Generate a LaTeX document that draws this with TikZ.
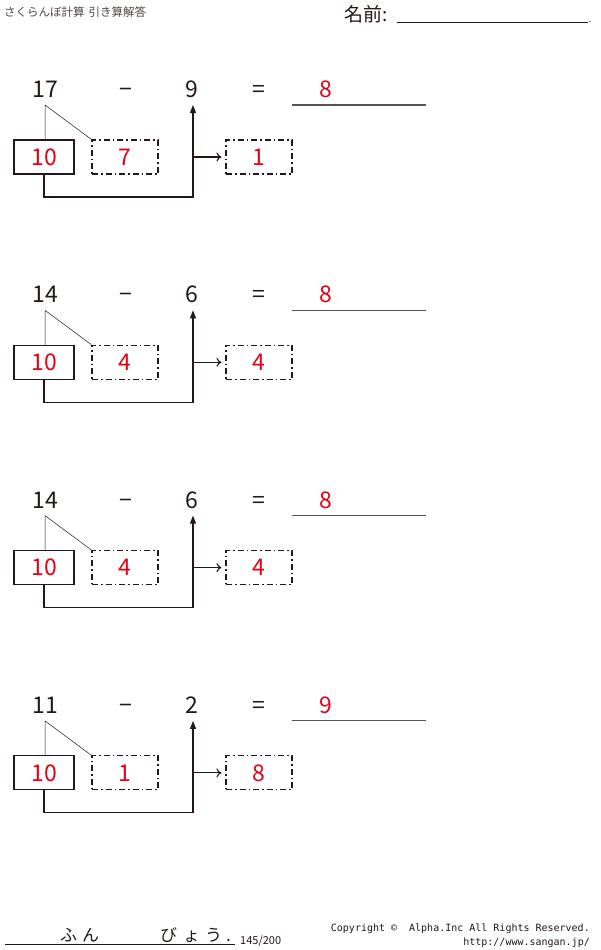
\documentclass[tikz,border=0pt]{standalone}
\usepackage{fontspec}
\setmainfont{Noto Sans CJK JP}
\newfontfamily\monof{DejaVu Sans Mono}
\usetikzlibrary{arrows.meta}
\definecolor{ansred}{RGB}{230,0,18}
\definecolor{ink}{RGB}{35,24,21}
\begin{document}
\begin{tikzpicture}[x=1pt,y=-1pt,
  num/.style={font=\fontsize{23}{23}\selectfont, inner sep=0pt, text=ink, anchor=base},
  ans/.style={num, text=ansred},
  solidbox/.style={draw=ink, line width=1.1pt, minimum width=60pt, minimum height=34pt, inner sep=0pt, text=ansred, font=\fontsize{23}{23}\selectfont},
  dashbox/.style={solidbox, dash pattern=on 6pt off 3pt on 1.5pt off 3pt, minimum width=66pt},
  conn/.style={draw=ink, line width=1.1pt},
  thinline/.style={draw=ink, line width=0.5pt},
  ansline/.style={draw=ink!75, line width=1.1pt}]
\useasboundingbox[fill=white] (0,0) rectangle (600,950);
% header
\node[anchor=west, font=\fontsize{11.5}{11.5}\selectfont, text=ink!80, inner sep=0pt] (title) at (4,12) {さくらんぼ計算\hspace{4pt}引き算解答};
\node[anchor=west, font=\fontsize{19}{19}\selectfont, text=ink, inner sep=0pt] (name) at (344,14) {名前:};
\coordinate (nl1) at (397,22);
\coordinate (nl2) at (588,22);
\draw[thinline, line width=0.7pt] (nl1) -- (nl2);
\fill[ink] (590,21.5) circle (0.6pt);
% problems
\foreach \a/\b/\c/\d/\e [count=\i] in {17/9/8/7/1, 14/6/8/4/4, 14/6/8/4/4, 11/2/9/1/8} {
  \pgfmathsetmacro\oy{205.3*(\i-1)}
  \begin{scope}[shift={(0,\oy)}]
    \node[num] (m\i) at (45,97.5) {\a};
    \node[num] (op\i) at (126,97.5) {−};
    \node[num] (s\i) at (192,97.5) {\b};
    \node[num] (eq\i) at (259,97.5) {=};
    \node[ans] (a\i) at (326,97.5) {\c};
    \coordinate (ul\i) at (292,105);
    \coordinate (ur\i) at (426,105);
    \draw[ansline] (ul\i) -- (ur\i);
    \node[solidbox] (t\i) at (44,157) {10};
    \node[dashbox] (o\i) at (125,157) {\d};
    \node[dashbox] (r\i) at (259,157) {\e};
    \coordinate (c\i) at (45,105);
    \draw[thinline] (c\i |- t\i.north) -- (c\i) -- (o\i.north west);
    \coordinate (up\i) at (193,105);
    \coordinate (corner\i) at (193,197);
    \coordinate (mid\i) at (193,157);
    \draw[conn, -{Triangle[length=8pt,width=6pt]}] (t\i.south) |- (corner\i) -- (up\i);
    \draw[conn, -{To[length=5pt,width=9pt]}, shorten >=4pt] (mid\i) -- (r\i.west);
  \end{scope}
}
% footer
\coordinate (fl1) at (5,944);
\coordinate (fl2) at (235,944);
\draw[conn, line width=0.9pt] (fl1) -- (fl2);
\node[anchor=base west, font=\fontsize{17}{17}\selectfont, text=ink, inner sep=0pt] (fun) at (60,941) {ふ\hspace{5pt}ん};
\node[anchor=base west, font=\fontsize{17}{17}\selectfont, text=ink, inner sep=0pt] (byou) at (160,941) {び\hspace{6pt}ょ\hspace{5pt}う\hspace{4pt}.};
\node[anchor=base west, font=\fontsize{11}{11}\selectfont, text=ink, inner sep=0pt] (page) at (240,944) {145/200};
\node[anchor=base east, font=\monof\fontsize{10}{10}\selectfont, text=ink, inner sep=0pt] (copy) at (590,931) {Copyright © \ Alpha.Inc All Rights Reserved.};
\node[anchor=base east, font=\monof\fontsize{10}{10}\selectfont, text=ink, inner sep=0pt] (url) at (590,945) {http://www.sangan.jp/};
\end{tikzpicture}
\end{document}
